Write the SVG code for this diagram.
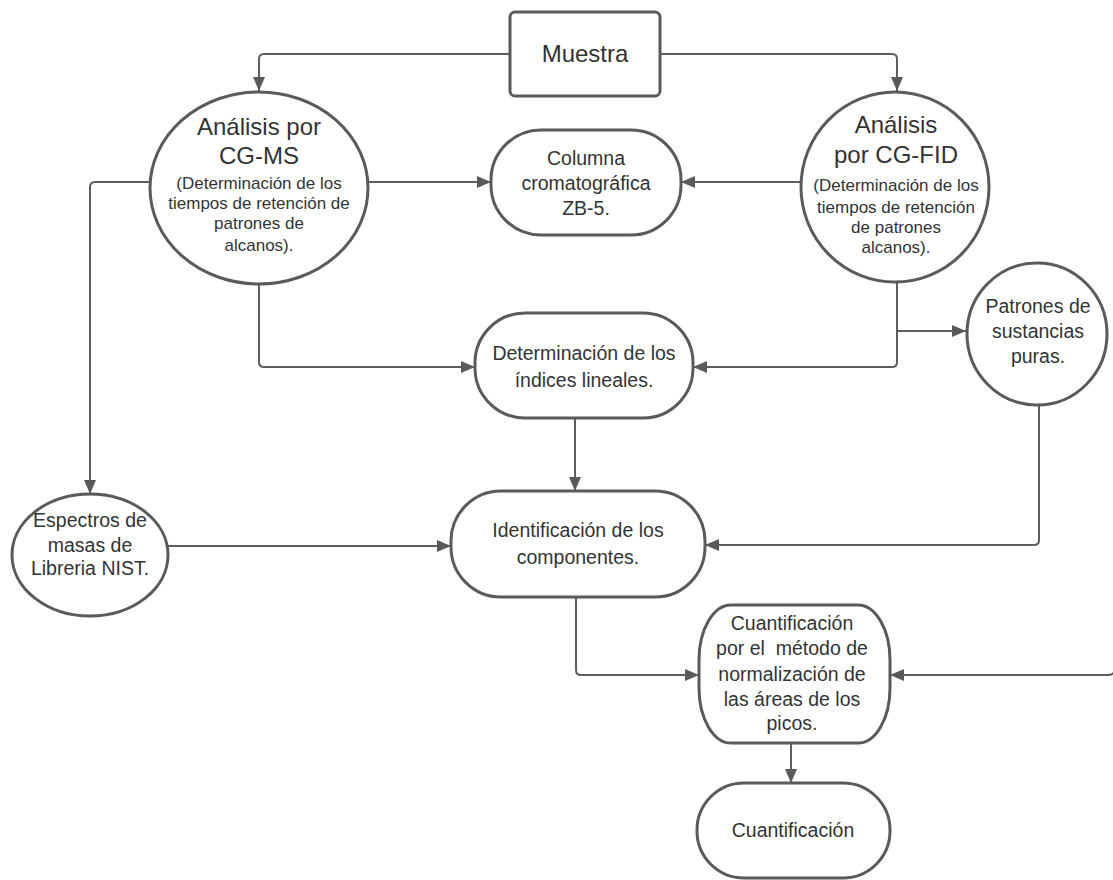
<svg xmlns="http://www.w3.org/2000/svg" width="1113" height="880" viewBox="0 0 1113 880">
<defs>
<marker id="arr" markerUnits="userSpaceOnUse" markerWidth="14" markerHeight="12" refX="14" refY="6" orient="auto">
<path d="M0,0 L14,6 L0,12 z" fill="#5a5a5a"/>
</marker>
<style>
.n{fill:#fff;stroke:#5a5a5a;stroke-width:3}
.c{fill:none;stroke:#5e5e5e;stroke-width:2;marker-end:url(#arr)}
text{font-family:"Liberation Sans",Arial,sans-serif;fill:#333;text-anchor:middle}
.t{font-size:19.5px}
.big{font-size:24px}
.s{font-size:17px}
</style>
</defs>
<rect width="1113" height="880" fill="#fff"/>
<g id="connectors">
<path class="c" d="M510,54 H264 Q259,54 259,59 V91"/>
<path class="c" d="M660,54 H892 Q897,54 897,59 V91"/>
<path class="c" d="M368,182 H491"/>
<path class="c" d="M802,182 H681"/>
<path class="c" d="M150,182 H95 Q90,182 90,187 V494"/>
<path class="c" d="M259,283 V362 Q259,367 264,367 H475"/>
<path class="c" d="M897,281 V362 Q897,367 892,367 H693"/>
<path class="c" d="M897,331 H966"/>
<path class="c" d="M575,418 V491"/>
<path class="c" d="M168,546 H451"/>
<path class="c" d="M1039,405 V540 Q1039,545 1034,545 H705"/>
<path class="c" d="M576,597 V670 Q576,675 581,675 H699"/>
<path class="c" d="M1115,600 V668 Q1115,675 1108,675 H890"/>
<path class="c" d="M791,743 V783"/>
</g>
<g id="muestra">
<rect class="n" x="510" y="12" width="150" height="84" rx="5"/>
<text class="big" x="585" y="62">Muestra</text>
</g>
<g id="cgms">
<ellipse class="n" cx="259" cy="188" rx="109" ry="96"/>
<text class="big" x="259" y="135">Análisis por</text>
<text class="big" x="259" y="164">CG-MS</text>
<text class="s" x="259" y="189">(Determinación de los</text>
<text class="s" x="259" y="209">tiempos de retención de</text>
<text class="s" x="259" y="229">patrones de</text>
<text class="s" x="259" y="251">alcanos).</text>
</g>
<g id="cgfid">
<ellipse class="n" cx="895" cy="187" rx="94" ry="95"/>
<text class="big" x="896" y="133">Análisis</text>
<text class="big" x="896" y="163">por CG-FID</text>
<text class="s" x="896" y="191">(Determinación de los</text>
<text class="s" x="896" y="213">tiempos de retención</text>
<text class="s" x="896" y="233">de patrones</text>
<text class="s" x="896" y="253">alcanos).</text>
</g>
<g id="columna">
<rect class="n" x="491" y="130" width="190" height="105" rx="50" ry="50"/>
<text class="t" x="586" y="165">Columna</text>
<text class="t" x="586" y="190">cromatográfica</text>
<text class="t" x="586" y="215">ZB-5.</text>
</g>
<g id="patrones">
<ellipse class="n" cx="1037" cy="334" rx="70" ry="71"/>
<text class="t" x="1038" y="313">Patrones de</text>
<text class="t" x="1038" y="338">sustancias</text>
<text class="t" x="1038" y="363">puras.</text>
</g>
<g id="determinacion">
<rect class="n" x="475" y="313" width="218" height="105" rx="50" ry="50"/>
<text class="t" x="584" y="360">Determinación de los</text>
<text class="t" x="584" y="387">índices lineales.</text>
</g>
<g id="espectros">
<ellipse class="n" cx="90" cy="555" rx="78" ry="61"/>
<text class="t" x="90" y="527">Espectros de</text>
<text class="t" x="90" y="552">masas de</text>
<text class="t" x="90" y="575">Libreria NIST.</text>
</g>
<g id="identificacion">
<rect class="n" x="451" y="491" width="254" height="106" rx="50" ry="50"/>
<text class="t" x="578" y="537">Identificación de los</text>
<text class="t" x="578" y="564">componentes.</text>
</g>
<g id="cuantmetodo">
<rect class="n" x="699" y="605" width="191" height="138" rx="32" ry="55"/>
<text class="t" x="792" y="630">Cuantificación</text>
<text class="t" x="792" y="655" xml:space="preserve">por el  método de</text>
<text class="t" x="792" y="681">normalización de</text>
<text class="t" x="792" y="706">las áreas de los</text>
<text class="t" x="792" y="730">picos.</text>
</g>
<g id="cuantificacion">
<rect class="n" x="697" y="783" width="193" height="95" rx="47" ry="47"/>
<text class="t" x="793" y="837">Cuantificación</text>
</g>
</svg>
